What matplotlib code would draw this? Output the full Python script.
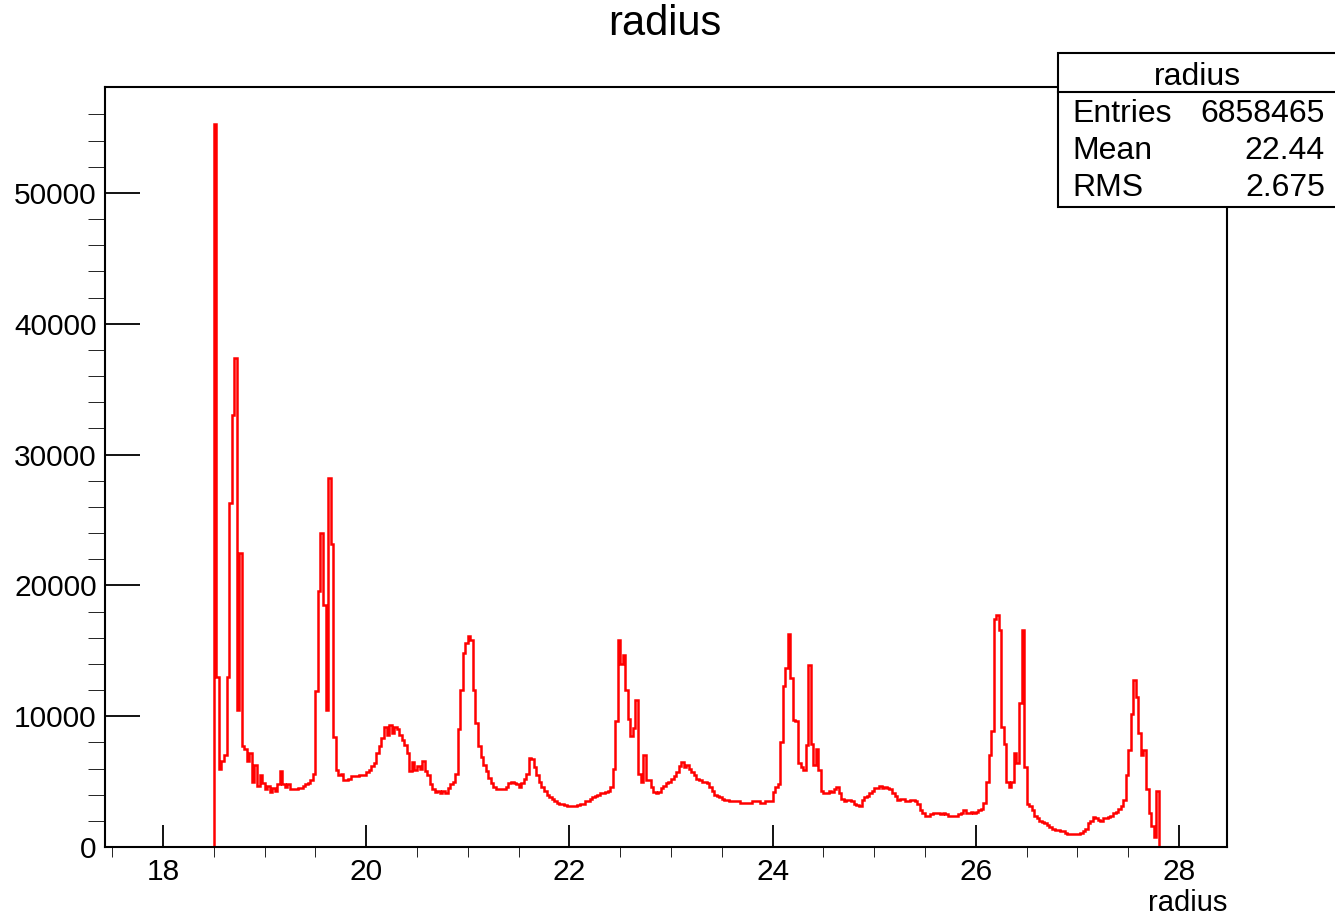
import matplotlib
matplotlib.use("Agg")
import matplotlib.pyplot as plt
import numpy as np
from matplotlib.patches import Rectangle
from matplotlib.lines import Line2D

plt.rcParams['font.family'] = ['Liberation Sans', 'DejaVu Sans']

# histogram definition (bin width 0.025, first bin at 18.5)
first_edge = 18.5
bin_width = 0.025

# bin contents in thousands, 20 bins per row
counts_18_5 = [55.3, 13.0, 6.0, 6.6, 7.0, 13.0, 26.3, 33.0, 37.4, 10.5, 22.5, 7.7, 7.5, 6.6, 7.2, 5.0, 6.3, 4.7, 5.5, 4.9,
               4.4, 4.7, 4.2, 4.5, 4.3, 4.8, 5.8, 4.8, 4.6, 4.8, 4.4, 4.4, 4.4, 4.5, 4.5, 4.7, 4.8, 4.9, 5.1, 5.6]
counts_19_5 = [11.9, 19.6, 24.0, 18.5, 10.5, 28.2, 23.2, 8.4, 5.9, 5.5, 5.6, 5.1, 5.1, 5.2, 5.4, 5.4, 5.4, 5.5, 5.5, 5.5,
               5.7, 5.9, 6.2, 6.4, 7.2, 7.7, 8.3, 9.2, 8.6, 9.3, 8.7, 9.2, 9.0, 8.6, 8.2, 7.8, 7.2, 5.8, 6.5, 5.9]
counts_20_5 = [6.2, 6.0, 6.6, 5.8, 5.5, 4.8, 4.4, 4.2, 4.3, 4.1, 4.3, 4.1, 4.5, 4.8, 5.0, 5.6, 9.0, 12.0, 14.8, 15.6,
               16.1, 15.8, 12.0, 9.5, 7.7, 6.9, 6.3, 5.8, 5.3, 4.9, 4.6, 4.4, 4.4, 4.4, 4.4, 4.6, 4.9, 5.0, 4.9, 4.8]
counts_21_5 = [4.6, 4.9, 5.2, 5.6, 6.8, 6.7, 6.1, 5.5, 5.0, 4.6, 4.3, 4.0, 3.8, 3.7, 3.5, 3.4, 3.3, 3.3, 3.2, 3.1,
               3.1, 3.1, 3.1, 3.2, 3.3, 3.3, 3.5, 3.5, 3.7, 3.8, 3.9, 4.0, 4.1, 4.1, 4.2, 4.3, 4.6, 6.0, 9.6, 15.8]
counts_22_5 = [14.0, 14.7, 12.0, 9.8, 8.5, 9.1, 11.2, 5.6, 5.0, 7.0, 5.1, 5.1, 4.6, 4.2, 4.1, 4.2, 4.5, 4.7, 4.9, 5.0,
               5.2, 5.4, 5.7, 6.2, 6.5, 6.1, 6.3, 6.0, 5.7, 5.5, 5.2, 5.1, 5.0, 5.0, 4.9, 4.6, 4.3, 4.0, 3.9, 3.8]
counts_23_5 = [3.7, 3.6, 3.6, 3.5, 3.5, 3.5, 3.5, 3.4, 3.4, 3.4, 3.4, 3.4, 3.5, 3.5, 3.5, 3.4, 3.4, 3.5, 3.5, 3.5,
               4.2, 4.6, 4.8, 8.0, 12.3, 13.7, 16.3, 12.9, 9.7, 9.6, 6.4, 6.1, 5.9, 7.8, 13.9, 7.9, 6.3, 7.5, 5.9, 4.3]
counts_24_5 = [4.1, 4.1, 4.3, 4.2, 4.4, 4.6, 4.1, 3.7, 3.5, 3.6, 3.6, 3.5, 3.3, 3.2, 3.1, 3.6, 3.8, 3.9, 4.1, 4.3,
               4.5, 4.5, 4.7, 4.5, 4.6, 4.5, 4.4, 4.1, 3.9, 3.6, 3.7, 3.7, 3.5, 3.5, 3.6, 3.6, 3.5, 3.3, 2.8, 2.6]
counts_25_5 = [2.4, 2.4, 2.5, 2.6, 2.6, 2.6, 2.5, 2.6, 2.5, 2.4, 2.4, 2.4, 2.4, 2.5, 2.6, 2.8, 2.6, 2.6, 2.7, 2.6,
               2.7, 2.8, 2.9, 3.4, 5.0, 7.0, 8.9, 17.4, 17.7, 16.6, 9.2, 7.9, 5.0, 4.6, 5.0, 7.2, 6.4, 11.0, 16.6, 6.1]
counts_26_5 = [3.3, 3.1, 2.8, 2.4, 2.2, 2.0, 1.9, 1.8, 1.7, 1.5, 1.4, 1.3, 1.3, 1.2, 1.2, 1.1, 1.0, 1.0, 1.0, 1.0,
               1.0, 1.1, 1.2, 1.4, 1.8, 2.0, 2.3, 2.2, 2.1, 2.0, 2.2, 2.2, 2.3, 2.4, 2.6, 2.7, 2.9, 3.1, 3.6, 5.5]
counts_27_5 = [7.4, 10.2, 12.8, 11.5, 8.7, 7.0, 7.4, 4.4, 2.6, 1.6, 0.8, 4.3]

# stats box
hist_name = "radius"
n_entries = 6858465
mean_val = 22.44
rms_val = 2.675

counts = np.array(counts_18_5 + counts_19_5 + counts_20_5 + counts_21_5 + counts_22_5
                  + counts_23_5 + counts_24_5 + counts_25_5 + counts_26_5 + counts_27_5) * 1000
edges = first_edge + bin_width * np.arange(len(counts) + 1)

W, H = 1335, 917
fig = plt.figure(figsize=(W / 100, H / 100), dpi=100)
ax = fig.add_axes([105 / W, 1 - 847 / H, (1227 - 105) / W, (847 - 87) / H])

ax.stairs(counts, edges, color='red', linewidth=1.8, baseline=0)

ax.set_xlim(17.429, 28.472)
ax.set_ylim(0, 58100)

ax.set_xticks(np.arange(18, 29, 2))
ax.set_xticks(np.arange(17.5, 28.5, 0.5), minor=True)
ax.set_yticks(np.arange(0, 60000, 10000))
ax.set_yticks(np.arange(0, 58000, 2000), minor=True)
ax.set_xticklabels([f"{v:d}" for v in range(18, 29, 2)])
ax.set_yticklabels([f"{v:d}" for v in range(0, 60000, 10000)])

ax.tick_params(direction='in', labelsize=21.5, width=1.3, colors='black')
ax.tick_params(axis='y', which='major', length=25, pad=6)
ax.tick_params(axis='y', which='minor', length=12)
ax.tick_params(axis='x', which='major', length=16, pad=8)
ax.tick_params(axis='x', which='minor', length=7.5)
for s in ax.spines.values():
    s.set_linewidth(1.5)

ax.set_xlabel(hist_name, fontsize=21)
ax.xaxis.set_label_coords(1.0, -(903 - 847) / (847 - 87))
ax.xaxis.label.set_ha('right')
ax.xaxis.label.set_va('center')

fig.text(665 / W, 1 - 24 / H, hist_name, ha='center', va='center', fontsize=30)

# stats box (drawn over the frame)
box = Rectangle((1058 / W, 1 - 207 / H), (1340 - 1058) / W, (207 - 53) / H,
                transform=fig.transFigure, facecolor='white', edgecolor='black',
                linewidth=1.5, zorder=10)
fig.add_artist(box)
fig.add_artist(Line2D([1058 / W, 1.0], [1 - 92 / H, 1 - 92 / H], transform=fig.transFigure,
                      color='black', linewidth=1.5, zorder=11))
fig.text(1197 / W, 1 - 85 / H, hist_name, ha='center', va='baseline', fontsize=23, zorder=12)
rows = [("Entries", f"{n_entries}"), ("Mean", f"{mean_val:.2f}"), ("RMS", f"{rms_val:.3f}")]
for i, (lab, val) in enumerate(rows):
    yb = 1 - (122 + 37 * i) / H
    fig.text(1072 / W, yb, lab, ha='left', va='baseline', fontsize=23, zorder=12)
    fig.text(1325 / W, yb, val, ha='right', va='baseline', fontsize=23, zorder=12)

fig.savefig("out.png", dpi=100)
